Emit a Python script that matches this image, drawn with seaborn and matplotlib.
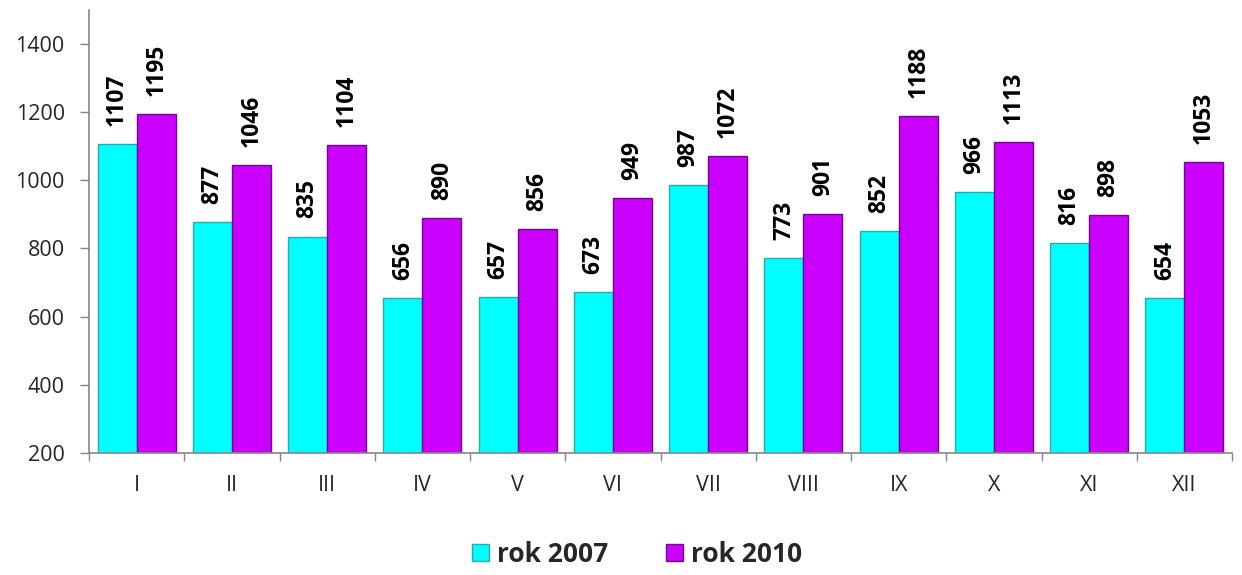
import matplotlib
matplotlib.use("Agg")
import matplotlib.pyplot as plt
import seaborn as sns
import pandas as pd
from matplotlib.patches import Patch

months = ["I", "II", "III", "IV", "V", "VI", "VII", "VIII", "IX", "X", "XI", "XII"]
series_names = ["rok 2007", "rok 2010"]
values_2007 = [1107, 877, 835, 656, 657, 673, 987, 773, 852, 966, 816, 654]
values_2010 = [1195, 1046, 1104, 890, 856, 949, 1072, 901, 1188, 1113, 898, 1053]
y_ticks = [200, 400, 600, 800, 1000, 1200, 1400]

df = pd.DataFrame({
    "month": months * 2,
    "series": [series_names[0]] * len(months) + [series_names[1]] * len(months),
    "value": values_2007 + values_2010,
})

sns.set_style("white")
plt.rcParams["font.family"] = ["Open Sans", "DejaVu Sans"]

face = {"rok 2007": "#00FFFF", "rok 2010": "#CC00FF"}
edge = {"rok 2007": "#2FA8A8", "rok 2010": "#6E0A8A"}

fig = plt.figure(figsize=(12.42, 5.75), dpi=100)
ax = fig.add_axes([0.0717, 0.212, 0.9203, 0.771])

sns.barplot(data=df, x="month", y="value", hue="series", order=months,
            hue_order=series_names, palette=face, width=0.82, ax=ax,
            legend=False, saturation=1)

for cont, name in zip(ax.containers, series_names):
    for p in cont:
        p.set_edgecolor(edge[name])
        p.set_linewidth(1.0)
    ax.bar_label(cont, labels=[str(int(v)) for v in cont.datavalues],
                 rotation=90, padding=13, fontsize=16.5, fontweight="bold",
                 color="black")

ax.set_ylim(200, 1500)
ax.set_yticks(y_ticks)
ax.set_xlim(-0.5, len(months) - 0.5)
ax.set_xlabel("")
ax.set_ylabel("")

ax.tick_params(axis="y", which="major", length=6.5, width=1, color="#868686",
               labelsize=15.5, direction="out", left=True, pad=11)
ax.tick_params(axis="x", which="major", length=0, labelsize=15.5, pad=16)
ax.set_xticks([i - 0.5 for i in range(len(months) + 1)], minor=True)
ax.tick_params(axis="x", which="minor", length=6, width=1, color="#868686",
               direction="out", bottom=True)

for s in ["top", "right"]:
    ax.spines[s].set_visible(False)
for s in ["left", "bottom"]:
    ax.spines[s].set_color("#868686")
    ax.spines[s].set_linewidth(1.2)

handles = [Patch(facecolor=face[n], edgecolor=edge[n], label=n) for n in series_names]
fig.legend(handles=handles, loc="center", bbox_to_anchor=(0.513, 0.036), ncol=2,
           frameon=False, prop={"size": 19, "weight": "bold"},
           handlelength=0.65, handleheight=0.65, handletextpad=0.3,
           columnspacing=2.2, borderpad=0)

fig.savefig("out.png", dpi=100)
